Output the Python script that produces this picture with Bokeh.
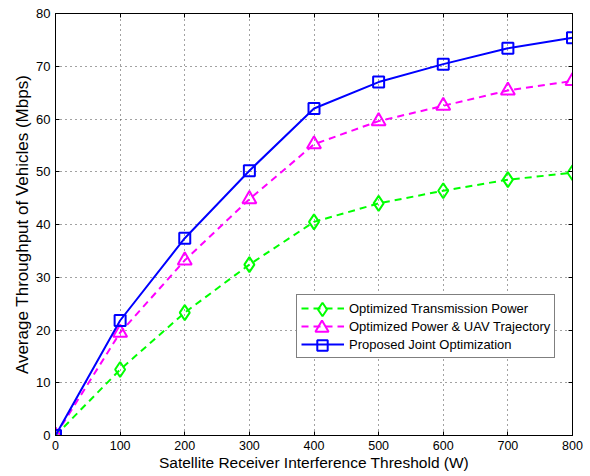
from bokeh.plotting import figure
from bokeh.models import LinearAxis, Range1d, FixedTicker, Legend, LegendItem
from bokeh.embed import file_html
from bokeh.resources import INLINE

x = [0, 100, 200, 300, 400, 500, 600, 700, 800]
joint = [0, 21.8, 37.4, 50.2, 62.0, 67.0, 70.4, 73.4, 75.4]
power_traj = [0, 19.5, 33.2, 44.8, 55.2, 59.6, 62.5, 65.4, 67.2]
tx_power = [0, 12.5, 23.3, 32.4, 40.5, 44.0, 46.4, 48.5, 49.8]
xticks = [0, 100, 200, 300, 400, 500, 600, 700, 800]
yticks = [0, 10, 20, 30, 40, 50, 60, 70, 80]
labels = ["Optimized Transmission Power", "Optimized Power & UAV Trajectory",
          "Proposed Joint Optimization"]

FONT = "Liberation Sans"

p = figure(width=590, height=476, output_backend="svg", toolbar_location=None,
           x_range=Range1d(0, 800), y_range=Range1d(0, 80),
           min_border_left=55, min_border_right=18, min_border_top=13, min_border_bottom=41)
p.outline_line_color = "black"
p.outline_line_width = 1
p.background_fill_color = "white"
p.border_fill_color = "white"

for ax in (p.xaxis[0], p.yaxis[0]):
    ax.major_tick_in = 4
    ax.major_tick_out = 0
    ax.minor_tick_in = 0
    ax.minor_tick_out = 0
    ax.axis_line_color = "black"
    ax.major_tick_line_color = "black"
    ax.major_label_text_font = FONT
    ax.major_label_text_color = "black"
    ax.axis_label_text_font = FONT
    ax.axis_label_text_font_style = "normal"
    ax.axis_label_text_color = "black"

p.xaxis[0].major_label_text_font_size = "12.5px"
p.yaxis[0].major_label_text_font_size = "13px"
p.xaxis[0].axis_label_text_font_size = "15.5px"
p.yaxis[0].axis_label_text_font_size = "17px"

p.xaxis[0].ticker = FixedTicker(ticks=xticks)
p.yaxis[0].ticker = FixedTicker(ticks=yticks)
p.xaxis[0].axis_label = "Satellite Receiver Interference Threshold (W)"
p.yaxis[0].axis_label = "Average Throughput of Vehicles (Mbps)"
p.xaxis[0].major_label_standoff = 5
p.xaxis[0].axis_label_standoff = 1
p.yaxis[0].major_label_standoff = 5
p.yaxis[0].axis_label_standoff = 1

for loc, ticks in (("above", xticks), ("right", yticks)):
    ax = LinearAxis(ticker=FixedTicker(ticks=ticks), major_tick_in=4, major_tick_out=0,
                    minor_tick_in=0, minor_tick_out=0,
                    major_label_overrides={t: "" for t in ticks},
                    major_label_standoff=0, axis_line_color="black", major_tick_line_color="black")
    p.add_layout(ax, loc)

p.grid.grid_line_color = "#444444"
p.grid.grid_line_dash = "1 4"
p.grid.grid_line_width = 1
p.xgrid.ticker = FixedTicker(ticks=xticks)
p.ygrid.ticker = FixedTicker(ticks=yticks)

g_l = p.line(x, tx_power, line_color="#00ff00", line_width=2, line_dash="7 5")
g_m = p.scatter(x, tx_power, marker="diamond", size=15, line_color="#00ff00", line_width=2, fill_color=None)
m_l = p.line(x, power_traj, line_color="#ff00ff", line_width=2, line_dash="7 5")
m_m = p.scatter(x, power_traj, marker="triangle", size=14, line_color="#ff00ff", line_width=2, fill_color=None)
b_l = p.line(x, joint, line_color="#0000ff", line_width=2)
b_m = p.scatter(x, joint, marker="square", size=11, line_color="#0000ff", line_width=2, fill_color=None)

# main legend: box, labels and line samples
legend = Legend(items=[
    LegendItem(label=labels[0], renderers=[g_l]),
    LegendItem(label=labels[1], renderers=[m_l]),
    LegendItem(label=labels[2], renderers=[b_l]),
], location=(241, 77))
legend.border_line_color = "black"
legend.border_line_width = 1
legend.background_fill_color = "white"
legend.background_fill_alpha = 1
legend.label_text_font = FONT
legend.label_text_font_size = "13px"
legend.label_text_color = "black"
legend.glyph_width = 43
legend.glyph_height = 18
legend.label_height = 18
legend.label_standoff = 5
legend.spacing = 0
legend.padding = 4
legend.margin = 0
p.add_layout(legend, "center")

# overlay legends: full-size marker samples on top of the line samples
cx = 241 + 4 + 43 / 2
centers = [126, 108, 90]
for rend, s, cy in zip([g_m, m_m, b_m], [34, 33, 26], centers):
    ov = Legend(items=[LegendItem(label=" ", renderers=[rend])],
                location=(cx - s / 2, cy - s / 2))
    ov.border_line_color = None
    ov.background_fill_alpha = 0
    ov.glyph_width = s
    ov.glyph_height = s
    ov.label_height = 1
    ov.label_standoff = 0
    ov.label_text_font_size = "1px"
    ov.padding = 0
    ov.margin = 0
    ov.spacing = 0
    p.add_layout(ov, "center")

open("out.html", "w").write(file_html(p, INLINE))
